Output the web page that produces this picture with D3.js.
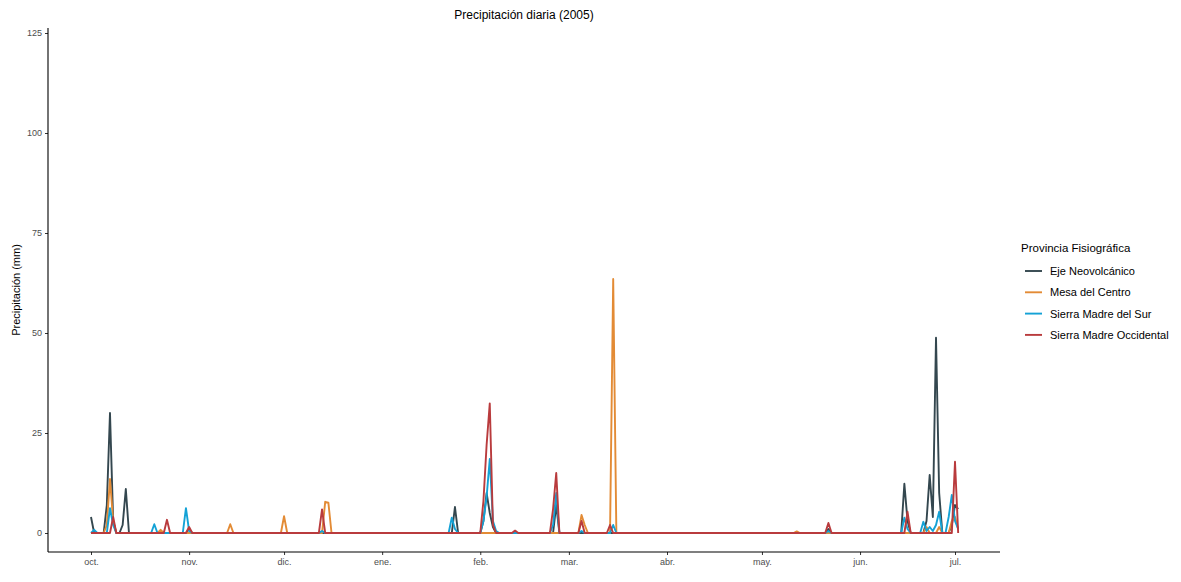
<!DOCTYPE html>
<html>
<head>
<meta charset="utf-8">
<script src="https://cdn.jsdelivr.net/npm/d3@7"></script>
<style>
	body { margin: 0; background: #fff; }
	text { font-family: "Liberation Sans", Arial, sans-serif; }
</style>
</head>
<body>
<script>
const width = 1181, height = 582;

// tick labels for the month axis
const monthLabels = ["oct.", "nov.", "dic.", "ene.", "feb.", "mar.", "abr.", "may.", "jun.", "jul."];
const yTicks = [0, 25, 50, 75, 100, 125];

const provinces = ["Eje Neovolcánico", "Mesa del Centro", "Sierra Madre del Sur", "Sierra Madre Occidental"];
const colors = ["#34474f", "#e38b35", "#14a2d6", "#b93b3d"];

const firstDay = "2004-10-01", lastDay = "2005-07-03";

// rainy days only (mm); every other day of the period reads 0
const ejeNeovolcanico = [
	["2004-10-01", 4], ["2004-10-06", 7], ["2004-10-07", 30], ["2004-10-08", 3],
	["2004-10-11", 2], ["2004-10-12", 11], ["2004-11-01", 1],
	["2005-01-24", 6.5], ["2005-02-02", 3], ["2005-02-03", 10], ["2005-02-04", 5], ["2005-02-05", 1.5],
	["2005-02-25", 7], ["2005-05-22", 1],
	["2005-06-15", 12.3], ["2005-06-16", 3],
	["2005-06-22", 3], ["2005-06-23", 14.5], ["2005-06-24", 4], ["2005-06-25", 48.8], ["2005-06-26", 10],
	["2005-06-30", 2], ["2005-07-01", 7], ["2005-07-02", 6]
];
const mesaCentro = [
	["2004-10-06", 2], ["2004-10-07", 13.5], ["2004-10-08", 3],
	["2004-10-23", 0.8], ["2004-11-14", 2.2], ["2004-12-01", 4.2],
	["2004-12-14", 7.8], ["2004-12-15", 7.6],
	["2005-03-05", 4.5], ["2005-03-06", 2], ["2005-03-15", 63.5],
	["2005-05-12", 0.4],
	["2005-06-22", 1.5], ["2005-06-26", 1.5],
	["2005-06-30", 3], ["2005-07-01", 4], ["2005-07-02", 1]
];
const sierraSur = [
	["2004-10-02", 0.8], ["2004-10-07", 6.2], ["2004-10-08", 2],
	["2004-10-21", 2.2], ["2004-10-31", 6.2], ["2004-11-01", 0.5], ["2004-12-13", 0.5],
	["2005-01-23", 3.8], ["2005-01-24", 1],
	["2005-02-02", 3], ["2005-02-03", 9], ["2005-02-04", 18.5], ["2005-02-05", 3], ["2005-02-06", 0.5],
	["2005-02-24", 2], ["2005-02-25", 10], ["2005-03-05", 0.5], ["2005-03-15", 2], ["2005-05-22", 0.5],
	["2005-06-15", 3.8], ["2005-06-16", 1],
	["2005-06-21", 2.8], ["2005-06-22", 0.5], ["2005-06-23", 1.5], ["2005-06-24", 0.5], ["2005-06-25", 2], ["2005-06-26", 5.3],
	["2005-06-29", 4], ["2005-06-30", 9.5], ["2005-07-01", 3], ["2005-07-02", 1]
];
const sierraOccidental = [
	["2004-10-08", 4], ["2004-10-25", 3.3], ["2004-11-01", 1.5], ["2004-12-13", 5.9],
	["2005-02-02", 8], ["2005-02-03", 22], ["2005-02-04", 32.4], ["2005-02-05", 2],
	["2005-02-12", 0.6], ["2005-02-24", 6], ["2005-02-25", 15],
	["2005-03-05", 3], ["2005-03-14", 2], ["2005-05-22", 2.5],
	["2005-06-16", 5.3], ["2005-07-01", 17.8]
];

const parse = d3.timeParse("%Y-%m-%d");
const fmt = d3.timeFormat("%Y-%m-%d");
const days = d3.timeDay.range(parse(firstDay), parse(lastDay));

const series = [ejeNeovolcanico, mesaCentro, sierraSur, sierraOccidental].map((rain, i) => {
	const byDay = new Map(rain.map(([d, v]) => [d, v]));
	return {
		name: provinces[i],
		color: colors[i],
		values: days.map((day) => ({ date: day, mm: byDay.get(fmt(day)) || 0 }))
	};
});

const svg = d3.select("body").append("svg")
	.attr("width", width)
	.attr("height", height);

const plotLeft = 48, plotRight = 1000, plotTop = 28, plotBottom = 552;

const x = d3.scaleTime()
	.domain([parse("2004-10-01"), parse("2005-07-01")])
	.range([91, 955]);

const y = d3.scaleLinear()
	.domain([-4.75, 126.25])
	.range([plotBottom, plotTop]);

// title
svg.append("text")
	.attr("x", (plotLeft + plotRight) / 2)
	.attr("y", 19)
	.attr("text-anchor", "middle")
	.attr("font-size", 12)
	.attr("fill", "#000")
	.text("Precipitación diaria (2005)");

// y axis
const yAxis = svg.append("g")
	.attr("transform", `translate(${plotLeft},0)`)
	.call(d3.axisLeft(y).tickValues(yTicks).tickSize(3).tickPadding(3));
yAxis.select(".domain").remove();
yAxis.selectAll(".tick line").attr("stroke", "#333");
yAxis.selectAll(".tick text").attr("font-size", 9).attr("fill", "#4d4d4d").attr("font-family", "Liberation Sans, Arial, sans-serif");
svg.append("line")
	.attr("x1", plotLeft).attr("x2", plotLeft)
	.attr("y1", plotTop).attr("y2", plotBottom)
	.attr("stroke", "#000").attr("stroke-width", 1.1);

// x axis
const monthTicks = d3.timeMonth.range(parse("2004-10-01"), parse("2005-07-02"));
const xAxis = svg.append("g")
	.attr("transform", `translate(0,${plotBottom})`)
	.call(d3.axisBottom(x).tickValues(monthTicks).tickFormat((d, i) => monthLabels[i]).tickSize(3).tickPadding(4));
xAxis.select(".domain").remove();
xAxis.selectAll(".tick line").attr("stroke", "#333");
xAxis.selectAll(".tick text").attr("font-size", 9).attr("fill", "#4d4d4d").attr("font-family", "Liberation Sans, Arial, sans-serif");
svg.append("line")
	.attr("x1", plotLeft).attr("x2", plotRight)
	.attr("y1", plotBottom).attr("y2", plotBottom)
	.attr("stroke", "#000").attr("stroke-width", 1.1);

// y label
svg.append("text")
	.attr("transform", `translate(20,${(plotTop + plotBottom) / 2}) rotate(-90)`)
	.attr("text-anchor", "middle")
	.attr("font-size", 11)
	.text("Precipitación (mm)");

// lines
const line = d3.line()
	.x((d) => x(d.date))
	.y((d) => y(d.mm));

svg.append("g")
	.selectAll("path")
	.data(series)
	.enter()
	.append("path")
	.attr("d", (d) => line(d.values))
	.attr("fill", "none")
	.attr("stroke", (d) => d.color)
	.attr("stroke-width", 1.9)
	.attr("stroke-linejoin", "round");

// legend
const legend = svg.append("g").attr("transform", "translate(1021,0)");
legend.append("text")
	.attr("x", 0)
	.attr("y", 252)
	.attr("font-size", 11.5)
	.text("Provincia Fisiográfica");

const item = legend.selectAll("g.item")
	.data(series)
	.enter()
	.append("g")
	.attr("class", "item")
	.attr("transform", (d, i) => `translate(0,${271 + i * 21.3})`);
item.append("line")
	.attr("x1", 4).attr("x2", 21)
	.attr("stroke", (d) => d.color)
	.attr("stroke-width", 1.9);
item.append("text")
	.attr("x", 29)
	.attr("y", 4)
	.attr("font-size", 11)
	.text((d) => d.name);
</script>
</body>
</html>
